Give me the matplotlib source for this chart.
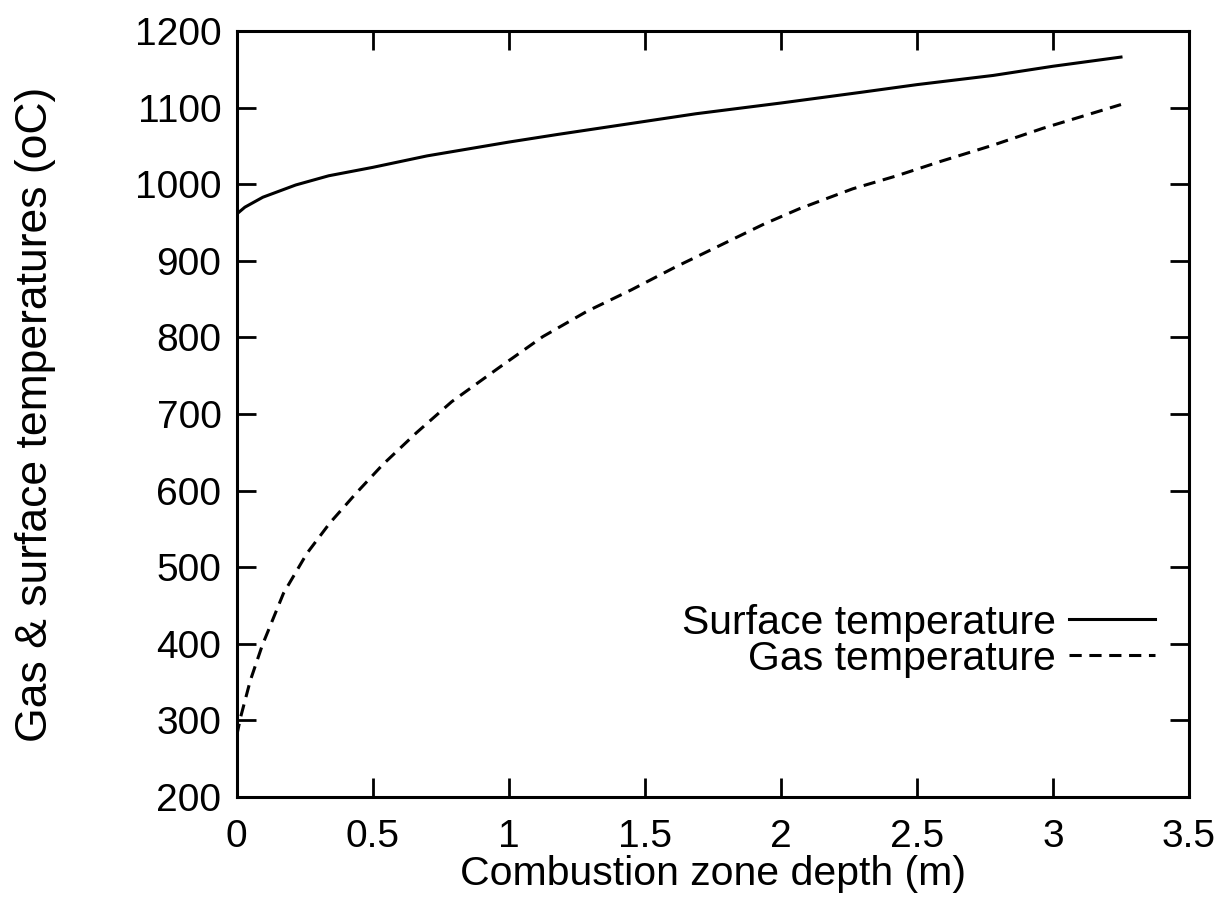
import matplotlib.pyplot as plt

# Surface temperature (solid)
depth_surface = [0, 0.03, 0.096, 0.217, 0.338, 0.5, 0.7, 1.0, 1.18, 1.5, 1.688,
                 2.0, 2.295, 2.5, 2.78, 3.0, 3.25]
temp_surface = [961, 970, 983, 999, 1011, 1022, 1037, 1055, 1065, 1082, 1092,
                1106, 1120, 1130, 1142, 1154, 1166]

# Gas temperature (dashed)
depth_gas = [0, 0.015, 0.05, 0.094, 0.172, 0.258, 0.343, 0.44, 0.537, 0.659,
             0.79, 0.962, 1.125, 1.287, 1.45, 1.613, 1.776, 1.938, 2.068,
             2.264, 2.426, 2.589, 2.78, 2.963, 3.25]
temp_gas = [280, 305, 352, 398, 466, 518, 558, 597, 634, 675,
            716, 760, 801, 834, 862, 892, 920, 948, 968,
            994, 1011, 1030, 1051, 1073, 1104]

x_ticks = [0, 0.5, 1, 1.5, 2, 2.5, 3, 3.5]
x_labels = ['0', '0.5', '1', '1.5', '2', '2.5', '3', '3.5']
y_ticks = list(range(200, 1201, 100))

plt.rcParams['font.family'] = ['Liberation Sans', 'DejaVu Sans']

fig = plt.figure(figsize=(12.22, 9.07), dpi=100)
ax = fig.add_axes([0.1937, 0.1213, 0.7793, 0.8445])

ax.plot(depth_surface, temp_surface, color='black', lw=2.2,
        label='Surface temperature')
ax.plot(depth_gas, temp_gas, color='black', lw=2.2, dashes=(4, 2.5),
        label='Gas temperature')

ax.set_xlim(0, 3.5)
ax.set_ylim(200, 1200)
ax.set_xticks(x_ticks)
ax.set_xticklabels(x_labels)
ax.set_yticks(y_ticks)

ax.tick_params(direction='in', length=14, width=2, top=True, right=True,
               labelsize=28)
ax.tick_params(axis='x', pad=16)
ax.tick_params(axis='y', pad=11)
for s in ax.spines.values():
    s.set_linewidth(2.2)

ax.set_xlabel('Combustion zone depth (m)', fontsize=29.5, labelpad=0)
ax.set_ylabel('Gas & surface temperatures (oC)', fontsize=32)
ax.yaxis.set_label_coords(-0.19, 0.5)

leg = ax.legend(loc='center right', bbox_to_anchor=(0.964, 0.204),
                frameon=False, markerfirst=False, fontsize=29.5,
                handlelength=2.1, handletextpad=0.32, labelspacing=-0.05,
                borderpad=0, borderaxespad=0)
for t in leg.get_texts():
    t.set_ha('right')

fig.savefig('out.png', dpi=100)
